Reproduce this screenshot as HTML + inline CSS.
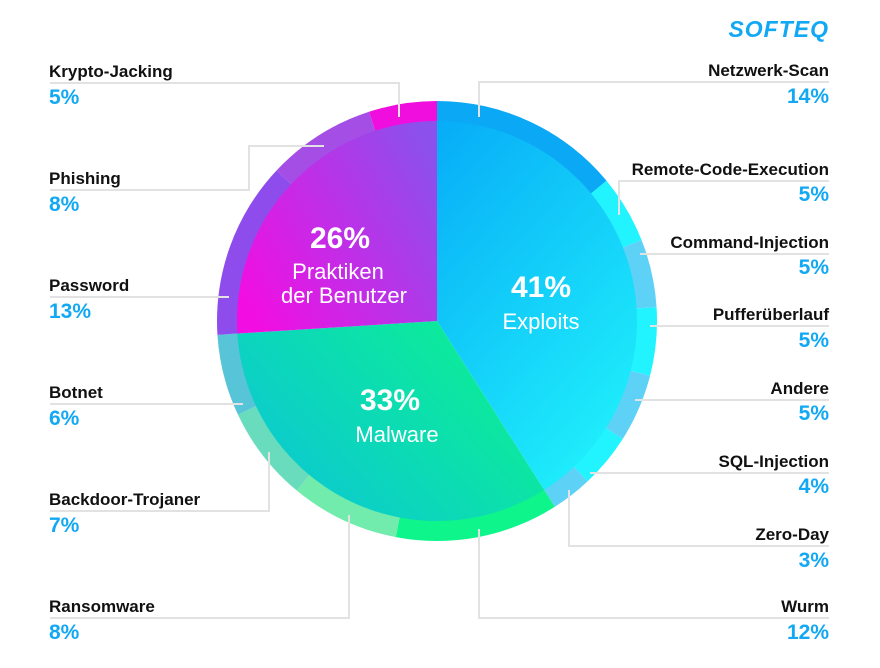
<!DOCTYPE html>
<html><head><meta charset="utf-8"><style>
html,body{margin:0;padding:0;background:#fff;}
body{width:880px;height:663px;overflow:hidden;font-family:"Liberation Sans",sans-serif;}
</style></head><body>
<svg id="s" width="880" height="663" viewBox="0 0 880 663" xmlns="http://www.w3.org/2000/svg">
<defs>
<linearGradient id="gE" x1="0" y1="0" x2="0.6" y2="1"><stop offset="0" stop-color="#07acf7"/><stop offset="1" stop-color="#1eecfb"/></linearGradient>
<linearGradient id="gM" x1="1" y1="0.2" x2="0" y2="0.8"><stop offset="0" stop-color="#0cf190"/><stop offset="1" stop-color="#0cc6d6"/></linearGradient>
<linearGradient id="gU" x1="0" y1="0.8" x2="1" y2="0.2"><stop offset="0" stop-color="#f20ee2"/><stop offset="1" stop-color="#8c50ec"/></linearGradient>
</defs>
<g id="ring"></g>
<g id="pie"></g>
<g fill="none" stroke="#e2e2e2" stroke-width="2">
<polyline points="50,83 399,83 399,117"/>
<polyline points="50,190 249,190 249,146 324,146"/>
<polyline points="50,297 229,297"/>
<polyline points="50,404 243,404"/>
<polyline points="50,511 269,511 269,452"/>
<polyline points="50,618 349,618 349,515"/>
<polyline points="829,82 479,82 479,117"/>
<polyline points="829,181 619,181 619,215"/>
<polyline points="829,254 640,254"/>
<polyline points="829,326 650,326"/>
<polyline points="829,400 635,400"/>
<polyline points="829,473 590,473"/>
<polyline points="829,546 569,546 569,490"/>
<polyline points="829,618 479,618 479,529"/>
</g>
<g font-weight="bold">
<g font-size="17" fill="#111">
<text x="49" y="77">Krypto-Jacking</text>
<text x="49" y="184">Phishing</text>
<text x="49" y="291">Password</text>
<text x="49" y="398">Botnet</text>
<text x="49" y="505">Backdoor-Trojaner</text>
<text x="49" y="612">Ransomware</text>
<g text-anchor="end">
<text x="829" y="76">Netzwerk-Scan</text>
<text x="829" y="175">Remote-Code-Execution</text>
<text x="829" y="248">Command-Injection</text>
<text x="829" y="320">Pufferüberlauf</text>
<text x="829" y="394">Andere</text>
<text x="829" y="467">SQL-Injection</text>
<text x="829" y="540">Zero-Day</text>
<text x="829" y="612">Wurm</text>
</g></g>
<g font-size="21" fill="#12a8f3">
<text x="49" y="104">5%</text>
<text x="49" y="211">8%</text>
<text x="49" y="318">13%</text>
<text x="49" y="425">6%</text>
<text x="49" y="532">7%</text>
<text x="49" y="639">8%</text>
<g text-anchor="end">
<text x="829" y="103">14%</text>
<text x="829" y="201">5%</text>
<text x="829" y="274">5%</text>
<text x="829" y="347">5%</text>
<text x="829" y="420">5%</text>
<text x="829" y="493">4%</text>
<text x="829" y="567">3%</text>
<text x="829" y="639">12%</text>
</g></g>
<text x="829" y="37" text-anchor="end" font-size="23" font-style="italic" fill="#12a8f3" letter-spacing="1">SOFTEQ</text>
</g>
<g fill="#fff" text-anchor="middle">
<text x="541" y="297" font-size="30" font-weight="bold">41%</text>
<text x="541" y="329" font-size="22">Exploits</text>
<text x="390" y="410" font-size="30" font-weight="bold">33%</text>
<text x="397" y="442" font-size="22">Malware</text>
<text x="340" y="248" font-size="30" font-weight="bold">26%</text>
<text x="338" y="279" font-size="22">Praktiken</text>
<text x="344" y="303" font-size="22">der Benutzer</text>
</g>
</svg>
<script>
var cx=437,cy=321,NS="http://www.w3.org/2000/svg";
function pt(a,r){var t=a*Math.PI/180;return [cx+r*Math.sin(t),cy-r*Math.cos(t)];}
function ann(a0,a1,r0,r1){var l=(a1-a0)>180?1:0,p=pt(a0,r1),q=pt(a1,r1),s=pt(a1,r0),u=pt(a0,r0);
return "M"+p+"A"+r1+","+r1+" 0 "+l+" 1 "+q+"L"+s+"A"+r0+","+r0+" 0 "+l+" 0 "+u+"Z";}
function sl(a0,a1,r){var l=(a1-a0)>180?1:0,p=pt(a0,r),q=pt(a1,r);return "M"+cx+","+cy+"L"+p+"A"+r+","+r+" 0 "+l+" 1 "+q+"Z";}
var ring=[[14,"#0aa8f5"],[5,"#22f4ff"],[5,"#5ed1f7"],[5,"#22f4ff"],[5,"#5ed1f7"],[4,"#22f4ff"],[3,"#5ed1f7"],[12,"#0ef58c"],[8,"#72ecac"],[7,"#68dcbc"],[6,"#58c4d8"],[13,"#8f4cec"],[8,"#a44ee6"],[5,"#f00ede"]];
var a=0,g=document.getElementById("ring");
ring.forEach(function(d){var e=document.createElementNS(NS,"path");e.setAttribute("d",ann(a,a+d[0]*3.6,198,220));e.setAttribute("fill",d[1]);g.appendChild(e);a+=d[0]*3.6;});
var pie=[[41,"url(#gE)"],[33,"url(#gM)"],[26,"url(#gU)"]];a=0;g=document.getElementById("pie");
pie.forEach(function(d){var e=document.createElementNS(NS,"path");e.setAttribute("d",sl(a,a+d[0]*3.6,200));e.setAttribute("fill",d[1]);g.appendChild(e);a+=d[0]*3.6;});
</script>
</body></html>
